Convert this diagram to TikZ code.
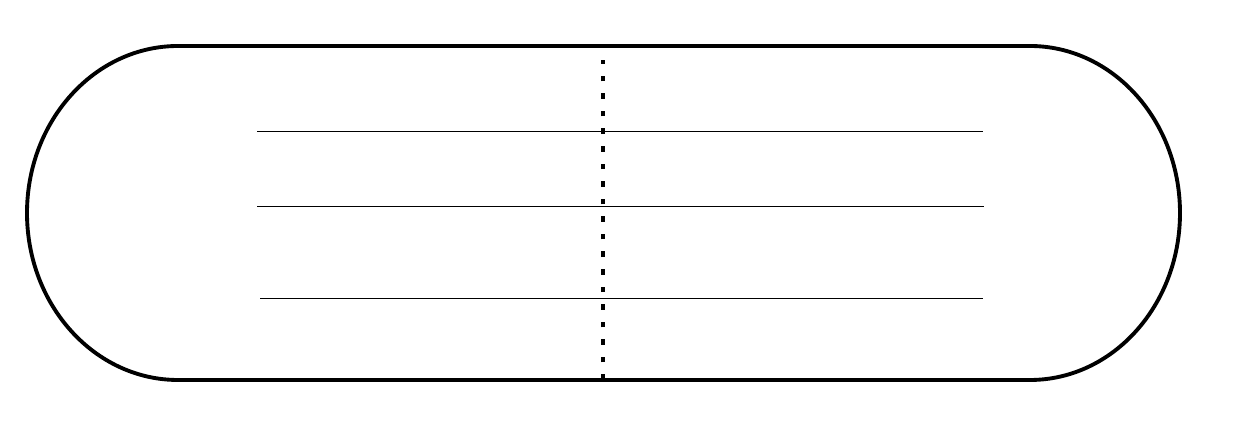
\documentclass[tikz,border=0pt]{standalone}
\usetikzlibrary{positioning}

\begin{document}
\begin{tikzpicture}[x=0.02cm,y=0.02cm,
        track/.style={line width=2.2pt},
        lane/.style={line width=0.55pt},
        midline/.style={line width=2.2pt,dash pattern=on 3.2pt off 6.8pt}]
        \useasboundingbox (0,0) rectangle (1259,438);
        \coordinate (tl) at (178,392);
        \coordinate (tr) at (1030,392);
        \coordinate (bl) at (178,58);
        \coordinate (mtop) at (603,378);
        \coordinate (mbot) at (603,58);
        \coordinate (a1) at (257,307);
        \coordinate (a2) at (983,307);
        \coordinate (b1) at (257,232);
        \coordinate (b2) at (984,232);
        \coordinate (c1) at (260,140);
        \coordinate (c2) at (983,140);
        \draw[track] (tl) -- (tr) arc[start angle=90,end angle=-90,x radius=150,y radius=167]
            -- (bl) arc[start angle=270,end angle=90,x radius=151,y radius=167] -- cycle;
        \draw[lane] (a1) -- (a2);
        \draw[lane] (b1) -- (b2);
        \draw[lane] (c1) -- (c2);
        \draw[midline] (mbot) -- (mtop);
    \end{tikzpicture}
\end{document}
